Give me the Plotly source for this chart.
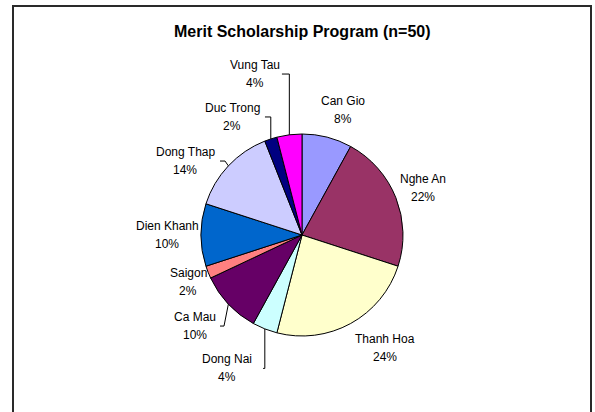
import math
import plotly.graph_objects as go

# ---------------- data ----------------
categories = ["Can Gio", "Nghe An", "Thanh Hoa", "Dong Nai", "Ca Mau",
              "Saigon", "Dien Khanh", "Dong Thap", "Duc Trong", "Vung Tau"]
counts = [4, 11, 12, 2, 5, 1, 5, 7, 1, 2]
title_text = "Merit Scholarship Program (n=50)"

# ---------------- styles / layout ----------------
colors = ["#9999FF", "#993366", "#FFFFCC", "#CCFFFF", "#660066",
          "#FF8080", "#0066CC", "#CCCCFF", "#000080", "#FF00FF"]
W, H = 595, 412
CX, CY, R = 302, 235, 101          # pie centre / radius in pixels
# label placement: radial distance (px) and angular nudge (deg) per slice
label_r = [131.6, 129.8, 140.6, 153.0, 140.5, 123.1, 135.0, 138.4, 137.0, 167.7]
label_shift = [3.8, 0.4, -7.4, 7.7, 2.8, -0.6, 0.0, -10.9, -12.5, -9.1]
# leader lines: (elbow dx from label centre or None=vertical, horizontal end dx)
leaders = {"Vung Tau": (None, 27), "Duc Trong": (None, 32.5),
           "Dong Nai": (None, 36), "Ca Mau": (29, 25), "Dong Thap": (40, 35)}
FONT = "Liberation Sans, Arial, sans-serif"


def px(x):
    return x / W


def py(y):
    return 1 - y / H


total = sum(counts)
fig = go.Figure()
fig.add_trace(go.Pie(
    labels=categories, values=counts, sort=False, direction="clockwise",
    rotation=0, marker=dict(colors=colors, line=dict(color="black", width=1)),
    textinfo="none", hoverinfo="label+percent", showlegend=False,
    domain=dict(x=[px(CX - R), px(CX + R)], y=[py(CY + R), py(CY - R)]),
))

annotations = [dict(text="<b>%s</b>" % title_text, x=px(CX), y=py(32),
                    xref="paper", yref="paper", showarrow=False,
                    font=dict(family=FONT, size=16, color="black"),
                    xanchor="center", yanchor="middle")]
shapes = [dict(type="rect", xref="paper", yref="paper", x0=px(13), x1=px(591),
               y0=py(6), y1=py(430), line=dict(color="#2a2a2a", width=2))]

cum = 0
for i, (cat, v) in enumerate(zip(categories, counts)):
    mid = (cum + v / 2) / total * 360
    cum += v
    a = math.radians(mid + label_shift[i])
    lx = CX + label_r[i] * math.sin(a)
    ly = CY - label_r[i] * math.cos(a)
    pct = "%d%%" % round(v / total * 100)
    for txt, yy in ((cat, ly - 9), (pct, ly + 9)):
        annotations.append(dict(text=txt, x=px(lx), y=py(yy), xref="paper",
                                yref="paper", showarrow=False,
                                font=dict(family=FONT, size=12, color="black"),
                                xanchor="center", yanchor="middle"))
    if cat in leaders:
        m = math.radians(mid)
        ex0 = CX + R * math.sin(m)
        ey0 = CY - R * math.cos(m)
        edx, hdx = leaders[cat]
        elx = ex0 if edx is None else lx + edx
        path = "M %f %f L %f %f L %f %f" % (px(ex0), py(ey0), px(elx), py(ly),
                                            px(lx + hdx), py(ly))
        shapes.append(dict(type="path", xref="paper", yref="paper", path=path,
                           line=dict(color="black", width=1)))

fig.update_layout(width=W, height=H, margin=dict(l=0, r=0, t=0, b=0),
                  paper_bgcolor="white", plot_bgcolor="white",
                  annotations=annotations, shapes=shapes)
fig.write_html("out.html", config={"displayModeBar": False},
               post_script="document.body.style.margin='0px';")
